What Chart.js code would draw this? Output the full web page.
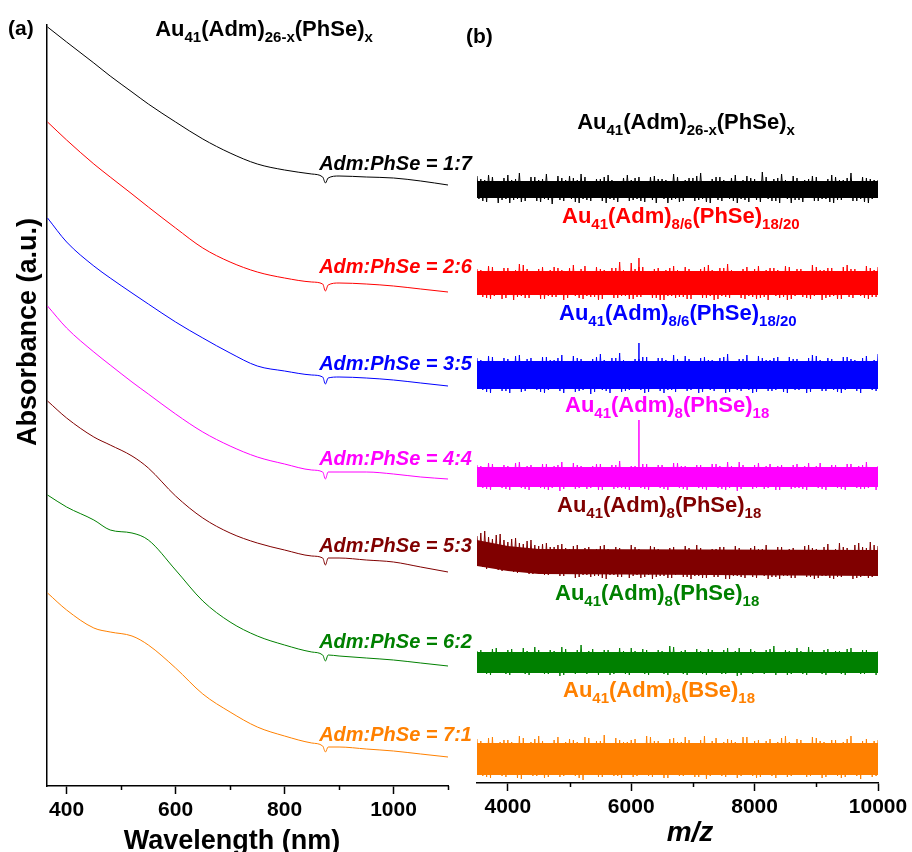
<!DOCTYPE html>
<html>
<head>
<meta charset="utf-8">
<script src="https://cdn.jsdelivr.net/npm/chart.js@4.4.1/dist/chart.umd.min.js"></script>
<style>
  html, body { margin: 0; padding: 0; background: #fff; }
  #wrap { position: relative; width: 912px; height: 852px; overflow: hidden;
          font-family: "Liberation Sans", Arial, sans-serif; font-weight: bold; }
  canvas { position: absolute; top: 0; }
  #uv { left: 0; }
  #ms { left: 470px; }
  .t { position: absolute; white-space: nowrap; line-height: 1; }
  .t sub { font-size: 15px; vertical-align: -6px; line-height: 0; }
  .ratio { font-size: 20px; font-style: italic; right: 440px; }
  .formula { font-size: 22px; }
  .center { transform: translateX(-50%); }
</style>
</head>
<body>
<div id="wrap">
  <canvas id="uv" width="470" height="852"></canvas>
  <canvas id="ms" width="442" height="852"></canvas>

  <div class="t" style="left:8px; top:17px; font-size:21px;">(a)</div>
  <div class="t" style="left:466px; top:25px; font-size:21px;">(b)</div>

  <div class="t formula center" style="left:264px; top:18px;">Au<sub>41</sub>(Adm)<sub>26-x</sub>(PhSe)<sub>x</sub></div>
  <div class="t formula center" style="left:686px; top:111px;">Au<sub>41</sub>(Adm)<sub>26-x</sub>(PhSe)<sub>x</sub></div>

  <div class="t ratio" style="top:153px; color:#000000;">Adm:PhSe = 1:7</div>
  <div class="t ratio" style="top:256px; color:#ff0000;">Adm:PhSe = 2:6</div>
  <div class="t ratio" style="top:353px; color:#0000ff;">Adm:PhSe = 3:5</div>
  <div class="t ratio" style="top:448px; color:#ff00ff;">Adm:PhSe = 4:4</div>
  <div class="t ratio" style="top:535px; color:#800000;">Adm:PhSe = 5:3</div>
  <div class="t ratio" style="top:631px; color:#008000;">Adm:PhSe = 6:2</div>
  <div class="t ratio" style="top:724px; color:#ff8000;">Adm:PhSe = 7:1</div>

  <div class="t formula" style="left:562px; top:205px; color:#ff0000;">Au<sub>41</sub>(Adm)<sub>8/6</sub>(PhSe)<sub>18/20</sub></div>
  <div class="t formula" style="left:559px; top:302px; color:#0000ff;">Au<sub>41</sub>(Adm)<sub>8/6</sub>(PhSe)<sub>18/20</sub></div>
  <div class="t formula" style="left:565px; top:394px; color:#ff00ff;">Au<sub>41</sub>(Adm)<sub>8</sub>(PhSe)<sub>18</sub></div>
  <div class="t formula" style="left:557px; top:494px; color:#800000;">Au<sub>41</sub>(Adm)<sub>8</sub>(PhSe)<sub>18</sub></div>
  <div class="t formula" style="left:555px; top:582px; color:#008000;">Au<sub>41</sub>(Adm)<sub>8</sub>(PhSe)<sub>18</sub></div>
  <div class="t formula" style="left:563px; top:679px; color:#ff8000;">Au<sub>41</sub>(Adm)<sub>8</sub>(BSe)<sub>18</sub></div>

  <div class="t center" style="left:232px; top:827px; font-size:27px;">Wavelength (nm)</div>
  <div class="t center" style="left:690px; top:818px; font-size:28px; font-style:italic;">m/z</div>
  <div class="t" style="left:27px; top:332px; font-size:27px; transform: translate(-50%, -50%) rotate(-90deg);">Absorbance (a.u.)</div>
</div>

<script>
// (a) UV-vis spectra, offset for stacking (a.u.)
const wavelength = [365, 400, 450, 480, 520, 550, 600, 650, 700, 750, 800, 850, 870, 875, 880, 900, 950, 1000, 1050, 1100];
const abs17 = [7.59, 7.44, 7.23, 7.10, 6.94, 6.82, 6.64, 6.47, 6.33, 6.22, 6.16, 6.12, 6.09, 6.03, 6.08, 6.10, 6.09, 6.08, 6.05, 6.01];
const abs26 = [6.64, 6.46, 6.22, 6.09, 5.92, 5.79, 5.58, 5.38, 5.24, 5.14, 5.08, 5.04, 5.02, 4.95, 5.01, 5.03, 5.02, 5.00, 4.97, 4.94];
const abs35 = [5.68, 5.44, 5.20, 5.08, 4.93, 4.82, 4.64, 4.48, 4.33, 4.20, 4.15, 4.11, 4.09, 4.02, 4.08, 4.09, 4.08, 4.06, 4.03, 4.00];
const abs44 = [4.80, 4.58, 4.34, 4.21, 4.04, 3.92, 3.72, 3.54, 3.40, 3.29, 3.22, 3.16, 3.14, 3.07, 3.14, 3.14, 3.14, 3.12, 3.09, 3.07];
const abs53 = [3.85, 3.68, 3.49, 3.41, 3.30, 3.18, 2.90, 2.68, 2.53, 2.43, 2.36, 2.30, 2.28, 2.21, 2.28, 2.28, 2.26, 2.24, 2.19, 2.14];
const abs62 = [2.91, 2.79, 2.66, 2.56, 2.53, 2.46, 2.16, 1.85, 1.64, 1.50, 1.41, 1.34, 1.31, 1.25, 1.31, 1.30, 1.28, 1.26, 1.23, 1.20];
const abs71 = [1.93, 1.76, 1.58, 1.54, 1.50, 1.41, 1.18, 0.92, 0.74, 0.59, 0.50, 0.43, 0.40, 0.34, 0.39, 0.39, 0.37, 0.35, 0.32, 0.29];
const uvTicks = [400, 600, 800, 1000];
const uvMinor = [500, 700, 900, 1100];

// (b) mass spectra, offset for stacking.
// Noise maxima sit at mzHi / mzHi2, minima at mzLo / mzLo2.
const mzHi = [3500, 3625, 3750, 3875, 4000, 4125, 4250, 4375, 4500, 4625, 4750, 4875, 5000, 5125, 5250, 5375, 5500, 5625,
  5750, 5875, 6000, 6125, 6250, 6375, 6500, 6625, 6750, 6875, 7000, 7125, 7250, 7375, 7500, 7625, 7750, 7875, 8000, 8125,
  8250, 8375, 8500, 8625, 8750, 8875, 9000, 9125, 9250, 9375, 9500, 9625, 9750, 9875, 10000];
const mzLo = [3531, 3656, 3781, 3906, 4031, 4156, 4281, 4406, 4531, 4656, 4781, 4906, 5031, 5156, 5281, 5406, 5531, 5656,
  5781, 5906, 6031, 6156, 6281, 6406, 6531, 6656, 6781, 6906, 7031, 7156, 7281, 7406, 7531, 7656, 7781, 7906, 8031, 8156,
  8281, 8406, 8531, 8656, 8781, 8906, 9031, 9156, 9281, 9406, 9531, 9656, 9781, 9906, 10031];
const mzHi2 = [3562, 3687, 3812, 3937, 4062, 4187, 4312, 4437, 4562, 4687, 4812, 4937, 5062, 5187, 5312, 5437, 5562, 5687,
  5812, 5937, 6062, 6187, 6312, 6437, 6562, 6687, 6812, 6937, 7062, 7187, 7312, 7437, 7562, 7687, 7812, 7937, 8062, 8187,
  8312, 8437, 8562, 8687, 8812, 8937, 9062, 9187, 9312, 9437, 9562, 9687, 9812, 9937, 10062];
const mzLo2 = [3594, 3719, 3844, 3969, 4094, 4219, 4344, 4469, 4594, 4719, 4844, 4969, 5094, 5219, 5344, 5469, 5594, 5719,
  5844, 5969, 6094, 6219, 6344, 6469, 6594, 6719, 6844, 6969, 7094, 7219, 7344, 7469, 7594, 7719, 7844, 7969, 8094, 8219,
  8344, 8469, 8594, 8719, 8844, 8969, 9094, 9219, 9344, 9469, 9594, 9719, 9844, 9969, 10094];

const ms17Hi = [607,603,606,602,608,604,601,606,603,609, 602,605,607,603,606,601,604,608,602,605, 603,606,602,607,604,601,606,603,605,610,
  602,606,603,605,601,607,604,611,602,605, 603,607,601,604,606,602,608,603,605,602, 606,604,603];
const ms17Lo = [584,581,585,583,580,584,582,585,581,583, 586,582,584,580,583,585,582,584,581,586, 583,582,585,580,584,583,581,585,582,584,
  580,583,586,582,584,581,583,585,582,580, 584,583,581,585,582,584,580,583,585,582, 581,584,583];
const ms17Hi2 = [604,608,602,605,603,610,601,606,604,602, 607,603,605,609,602,604,606,603,601,608, 605,602,606,604,603,609,602,605,607,601,
  604,606,602,608,603,605,601,606,604,609, 602,605,603,607,601,604,606,603,610,602, 605,603,607];
const ms17Lo2 = [582,585,580,584,583,581,586,582,584,579, 583,585,581,584,582,586,580,583,585,582, 584,581,583,586,580,584,582,585,583,581,
  586,582,584,580,583,585,581,584,582,586, 580,583,585,582,584,581,583,586,582,584, 580,585,582];

const ms26Hi = [514,512,516,511,515,513,518,512,514,511, 516,513,515,512,517,511,514,512,515,513, 520,516,512,514,511,515,513,516,512,514,
  518,511,515,513,512,516,514,511,515,513, 517,512,514,511,516,513,515,512,518,514, 511,515,516];
const ms26Lo = [488,485,487,484,488,486,485,489,484,487, 486,483,488,485,487,486,484,488,485,487, 484,486,488,485,483,487,486,484,488,485,
  487,484,486,489,485,487,484,486,488,485, 483,487,486,484,488,485,487,484,486,488, 485,486,487];
const ms26Hi2 = [513,517,511,515,512,519,514,511,516,513, 515,512,518,514,511,516,513,515,521,512, 514,516,511,515,513,517,512,514,511,516,
  513,515,519,512,514,511,517,513,515,512, 516,514,511,518,513,515,512,516,514,511, 517,513,515];
const ms26Lo2 = [486,484,488,485,483,487,485,488,484,486, 489,485,487,484,486,483,488,485,487,484, 486,488,485,483,487,485,486,484,488,485,
  483,487,485,488,484,486,485,483,487,486, 484,488,485,487,483,486,484,488,485,487, 484,486,485];

const ms35Hi = [425,422,426,421,424,427,422,425,421,426, 423,428,422,425,421,424,429,422,425,423, 421,424,426,422,425,421,424,427,422,425,
  423,421,426,422,424,428,421,425,423,426, 422,424,421,425,427,422,424,421,426,423, 425,422,429];
const ms35Lo = [394,391,395,392,390,394,392,395,391,393, 396,390,394,392,395,391,393,390,394,392, 395,393,391,394,390,393,395,392,394,391,
  393,395,390,394,392,393,391,395,392,394, 390,393,395,391,394,392,393,390,394,392, 395,393,394];
const ms35Hi2 = [423,427,421,425,422,428,424,421,426,423, 425,422,427,424,421,426,423,425,430,422, 424,426,421,425,423,428,422,424,421,426,
  423,425,429,422,424,421,427,423,425,422, 426,424,421,428,423,425,422,426,424,421, 427,423,426];
const ms35Lo2 = [393,390,395,392,394,391,396,393,390,394, 392,395,391,393,389,394,392,396,391,393, 395,390,394,392,393,391,395,393,390,394,
  392,396,391,393,395,390,394,392,393,391, 395,393,390,394,392,396,391,393,395,390, 394,392,393];

const ms44Hi = [318,316,319,315,317,320,316,318,315,319, 317,321,316,318,315,317,319,316,318,315, 317,316,319,315,318,316,320,317,315,318,
  316,319,315,317,321,316,318,315,319,317, 316,318,315,320,317,316,318,315,319,316, 318,315,317];
const ms44Lo = [296,294,297,295,293,296,294,297,295,293, 296,294,297,295,294,296,293,297,295,294, 296,295,293,297,294,296,295,293,296,294,
  297,295,293,296,294,297,295,294,296,293, 297,295,294,296,295,293,296,294,297,295, 294,296,295];
const ms44Hi2 = [317,320,315,318,316,321,317,315,319,316, 318,315,320,317,316,319,315,318,322,316, 317,319,315,318,316,320,317,315,318,316,
  319,317,321,315,318,316,320,317,315,318, 316,319,317,315,320,316,318,315,319,317, 321,316,318];
const ms44Lo2 = [295,293,296,294,297,295,293,296,294,295, 292,296,294,297,295,293,296,294,295,293, 297,294,296,295,293,296,294,297,295,293,
  296,294,295,292,296,294,297,295,293,296, 294,295,293,297,294,296,295,293,296,294, 295,293,296];

const ms53Hi = [247,252,244,249,241,245,239,243,237,240, 236,239,234,238,235,233,237,234,236,233, 238,234,232,236,233,235,232,237,233,235,
  232,234,236,233,235,232,237,234,233,236, 232,235,233,238,234,236,233,240,235,238, 236,241,237];
const ms53Lo = [219,214,217,212,214,210,212,209,211,208, 210,207,209,206,208,207,205,208,206,209, 207,205,208,206,207,205,209,206,207,205,
  208,206,204,207,206,208,205,207,206,204, 207,205,208,206,205,207,204,206,208,205, 207,206,207];
const ms53Hi2 = [250,246,248,243,244,240,242,238,239,236, 238,235,237,233,236,234,238,233,235,232, 236,233,237,234,232,236,233,235,238,232,
  234,236,233,237,232,235,234,238,233,236, 234,232,237,235,233,239,234,236,233,240, 235,238,236];
const ms53Lo2 = [216,218,213,215,211,213,209,211,208,210, 207,209,205,208,206,207,204,208,206,205, 208,206,204,207,205,208,206,204,207,205,
  206,208,204,207,205,206,208,204,206,207, 205,208,206,204,207,205,206,208,204,206, 205,207,206];

const ms62Hi = [132,130,134,131,133,130,135,131,133,130, 132,136,131,133,130,134,131,133,130,132, 135,131,133,130,132,137,131,133,130,132,
  134,131,133,130,135,131,132,130,134,131, 133,130,132,136,131,133,130,132,134,131, 133,130,132];
const ms62Lo = [111,109,112,110,108,111,109,112,110,109, 111,108,112,110,109,111,110,108,112,109, 111,110,108,111,109,112,110,108,111,109,
  112,110,109,111,108,110,112,109,111,110, 108,111,109,112,110,108,111,109,110,112, 109,111,110];
const ms62Hi2 = [133,130,135,131,134,130,132,136,131,133, 130,134,131,138,132,130,133,131,135,130, 132,134,131,133,130,136,132,131,134,130,
  133,131,135,132,130,134,131,133,137,130, 132,135,131,133,130,134,132,131,135,130, 133,131,134];
const ms62Lo2 = [110,108,111,109,112,110,108,111,109,110, 107,111,109,112,110,108,111,109,110,108, 112,109,111,110,108,111,109,112,110,108,
  111,109,110,107,111,109,112,110,108,111, 109,110,108,112,109,111,110,108,111,109, 110,108,111];

const ms71Hi = [44,40,46,41,43,39,45,41,47,40, 43,38,44,41,46,40,42,39,45,41, 43,40,47,42,39,44,41,46,40,43,
  39,45,41,43,40,46,42,39,44,41, 47,40,43,39,45,41,43,40,44,39, 42,40,43];
const ms71Lo = [9,6,10,7,8,5,9,7,10,6, 8,7,9,5,8,10,6,8,7,9, 6,10,7,8,5,9,7,8,6,10,
  7,9,6,8,7,10,5,8,7,9, 6,8,10,7,9,6,8,5,9,7, 8,6,9];
const ms71Hi2 = [42,45,39,43,41,47,40,44,42,39, 46,41,43,40,45,42,48,40,43,41, 44,39,46,42,40,45,41,43,39,47,
  42,40,44,41,46,39,43,42,40,45, 41,44,39,46,42,40,43,41,47,40, 44,42,45];
const ms71Lo2 = [7,5,9,6,8,4,10,7,5,8, 6,9,7,3,8,6,10,7,5,9, 7,8,6,10,5,8,7,9,6,4,
  8,7,9,5,10,7,6,8,5,9, 7,10,6,8,5,9,7,6,8,4, 9,7,8];

// dense part of each noise band: upper and lower edge at coreMz
const coreMz = [3500, 4000, 4500, 10000];
const core17 = [[602, 602, 602, 602], [585, 585, 585, 585]];
const core26 = [[512, 512, 512, 512], [488, 488, 488, 488]];
const core35 = [[422, 422, 422, 422], [394, 394, 394, 394]];
const core44 = [[316, 316, 316, 316], [296, 296, 296, 296]];
const core53 = [[243, 237, 234, 233], [217, 212, 209, 207]];
const core62 = [[131, 131, 131, 131], [110, 110, 110, 110]];
const core71 = [[40, 40, 40, 40], [8, 8, 8, 8]];
// single sharp peak near m/z 6125 in three traces: [trace, base, apex]
const peakMz = 6125;
const peaks = [[1, 512, 525], [2, 422, 440], [3, 316, 363]];
const msTicks = [4000, 6000, 8000, 10000];
const msMinor = [5000, 7000, 9000];

const colors = ['#000000', '#ff0000', '#0000ff', '#ff00ff', '#800000', '#008000', '#ff8000'];
const uvSeries = [abs17, abs26, abs35, abs44, abs53, abs62, abs71];
const msHi = [ms17Hi, ms26Hi, ms35Hi, ms44Hi, ms53Hi, ms62Hi, ms71Hi];
const msLo = [ms17Lo, ms26Lo, ms35Lo, ms44Lo, ms53Lo, ms62Lo, ms71Lo];
const msHi2 = [ms17Hi2, ms26Hi2, ms35Hi2, ms44Hi2, ms53Hi2, ms62Hi2, ms71Hi2];
const msLo2 = [ms17Lo2, ms26Lo2, ms35Lo2, ms44Lo2, ms53Lo2, ms62Lo2, ms71Lo2];
const msCore = [core17, core26, core35, core44, core53, core62, core71];

const FONT = '"Liberation Sans", Arial, sans-serif';

// short unlabeled ticks between the labeled ones
const minorTicks = {
  id: 'minorTicks',
  afterDraw(chart, args, opts) {
    const s = chart.scales.x;
    const ctx = chart.ctx;
    ctx.save();
    ctx.strokeStyle = '#000';
    ctx.lineWidth = 1.5;
    opts.values.forEach(v => {
      const x = Math.round(s.getPixelForValue(v)) + 0.5;
      ctx.beginPath();
      ctx.moveTo(x, s.top);
      ctx.lineTo(x, s.top + 4);
      ctx.stroke();
    });
    ctx.restore();
  }
};

function xAxis(min, max, ticks, height) {
  return {
    type: 'linear', min: min, max: max,
    afterBuildTicks: s => { s.ticks = ticks.map(v => ({ value: v })); },
    afterFit: s => { s.height = height; },
    grid: { drawOnChartArea: false, tickLength: 8, tickWidth: 1.5, tickColor: '#000' },
    border: { color: '#000', width: 1.5 },
    ticks: {
      color: '#000', padding: 4, maxRotation: 0,
      font: { family: FONT, size: 21, weight: 'bold' },
      callback: v => String(v)
    }
  };
}

new Chart(document.getElementById('uv'), {
  type: 'line',
  data: {
    datasets: uvSeries.map((vals, i) => ({
      data: wavelength.map((w, j) => ({ x: w, y: vals[j] })),
      borderColor: colors[i],
      borderWidth: 1,
      pointRadius: 0,
      cubicInterpolationMode: 'monotone',
      fill: false
    }))
  },
  options: {
    responsive: false,
    animation: false,
    layout: { padding: { left: 47, right: 22, top: 25, bottom: 0 } },
    plugins: { legend: { display: false }, tooltip: { enabled: false }, minorTicks: { values: uvMinor } },
    scales: {
      x: xAxis(364, 1100, uvTicks, 66),
      y: {
        min: 0, max: 7.61,
        afterFit: s => { s.width = 0; },
        ticks: { display: false },
        grid: { display: false },
        border: { display: true, color: '#000', width: 1.5 }
      }
    }
  },
  plugins: [minorTicks]
});

const msSets = [];
msCore.forEach(([top, low], i) => {
  // solid body of the trace
  msSets.push({
    data: coreMz.map((m, j) => ({ x: m, y: top[j] })),
    borderWidth: 0, pointRadius: 0, fill: false
  });
  msSets.push({
    data: coreMz.map((m, j) => ({ x: m, y: low[j] })),
    borderWidth: 0, pointRadius: 0, backgroundColor: colors[i], fill: '-1'
  });
  // noise: maxima and minima in m/z order
  const pts = [];
  mzHi.forEach((m, j) => {
    pts.push({ x: m, y: msHi[i][j] });
    pts.push({ x: mzLo[j], y: msLo[i][j] });
    pts.push({ x: mzHi2[j], y: msHi2[i][j] });
    pts.push({ x: mzLo2[j], y: msLo2[i][j] });
  });
  msSets.push({ data: pts, borderColor: colors[i], borderWidth: 1, pointRadius: 0, fill: false });
});
peaks.forEach(([i, base, apex]) => {
  msSets.push({
    data: [{ x: peakMz, y: base }, { x: peakMz, y: apex }],
    borderColor: colors[i], borderWidth: 1.5, pointRadius: 0, fill: false
  });
});

new Chart(document.getElementById('ms'), {
  type: 'line',
  data: { datasets: msSets },
  options: {
    responsive: false,
    animation: false,
    layout: { padding: { left: 7, right: 34, top: 25, bottom: 0 } },
    plugins: { legend: { display: false }, tooltip: { enabled: false }, minorTicks: { values: msMinor } },
    scales: {
      x: xAxis(3500, 10000, msTicks, 69),
      y: { display: false, min: 0, max: 758 }
    }
  },
  plugins: [minorTicks]
});
</script>
</body>
</html>
